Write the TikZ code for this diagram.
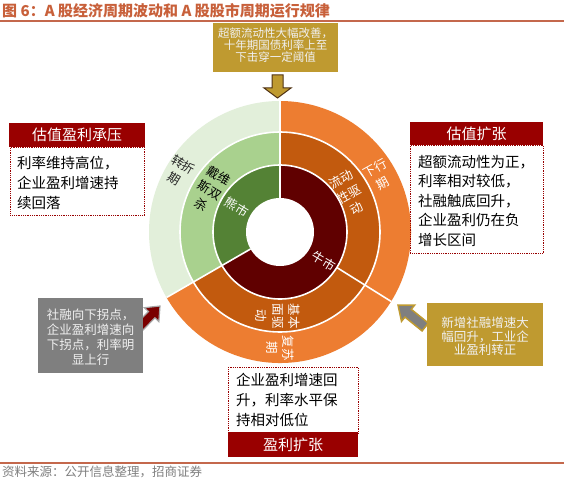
\documentclass[tikz,border=0pt]{standalone}
\usepackage{fontspec}
\setmainfont{Noto Sans CJK SC}
\definecolor{titlecol}{RGB}{200,96,58}
\definecolor{linecol}{RGB}{196,104,76}
\definecolor{hdrred}{RGB}{153,0,0}
\definecolor{goldc}{RGB}{191,154,48}
\definecolor{greyc}{RGB}{127,127,127}
\definecolor{orangec}{RGB}{237,125,49}
\definecolor{brownc}{RGB}{194,90,14}
\definecolor{maroonc}{RGB}{96,0,0}
\definecolor{dgreen}{RGB}{84,130,53}
\definecolor{lgreen}{RGB}{169,209,142}
\definecolor{pgreen}{RGB}{226,239,218}
\definecolor{arrowred}{RGB}{122,0,0}
\definecolor{darkout}{RGB}{80,50,20}
\definecolor{labeldark}{RGB}{38,38,38}
\begin{document}
\begin{tikzpicture}[x=1pt,y=-1pt,
  hdr/.style={fill=hdrred, text=white, font=\fontsize{15}{18}\selectfont, inner sep=0pt, minimum height=24pt},
  dotbox/.style={draw=hdrred, densely dotted, line width=0.8pt, inner sep=0pt, anchor=north west},
  body/.style={font=\fontsize{14.5}{20}\selectfont, align=left, inner sep=0pt, anchor=north west, text=black},
  rl/.style={font=\fontsize{12.5}{16.5}\selectfont, align=center, inner sep=0pt, text=white},
  note/.style={text=white!94!black, align=center, inner sep=0pt},
  sep/.style={white, line width=1.6pt}
]
\useasboundingbox (0,0) rectangle (564,481);
\fill[white] (0,0) rectangle (564,481);

% title and footer
\node[anchor=west, inner sep=0pt, text=titlecol, font=\fontsize{15}{18}\selectfont\bfseries] (title) at (2,11) {图 6：A 股经济周期波动和 A 股股市周期运行规律};
\coordinate (tl1) at (0,21); \coordinate (tl2) at (564,21);
\draw[linecol, line width=2pt] (tl1) -- (tl2);
\coordinate (fl1) at (0,463); \coordinate (fl2) at (564,463);
\draw[linecol, line width=1.2pt] (fl1) -- (fl2);
\node[anchor=west, inner sep=0pt, text=greyc, font=\fontsize{12.5}{15}\selectfont] (foot) at (2,472) {资料来源：公开信息整理，招商证券};

% donut
\begin{scope}[shift={(280,232)}]
\begin{scope}[y=1pt]
  % outer ring
  \fill[pgreen] (0,0) -- (90:131) arc[start angle=90, end angle=210, radius=131] -- cycle;
  \fill[orangec] (0,0) -- (210:131) arc[start angle=210, end angle=450, radius=131] -- cycle;
  % middle ring
  \fill[lgreen] (0,0) -- (90:100) arc[start angle=90, end angle=210, radius=100] -- cycle;
  \fill[brownc] (0,0) -- (210:100) arc[start angle=210, end angle=450, radius=100] -- cycle;
  % inner ring
  \fill[dgreen] (0,0) -- (90:67) arc[start angle=90, end angle=210, radius=67] -- cycle;
  \fill[maroonc] (0,0) -- (210:67) arc[start angle=210, end angle=450, radius=67] -- cycle;
  % hole
  \fill[white] (0,0) circle[radius=34];
  % separators
  \draw[sep] (0,0) circle[radius=67];
  \draw[sep] (0,0) circle[radius=100];
  \draw[sep] (90:34) -- (90:131);
  \draw[sep] (210:34) -- (210:131);
  \draw[sep] (328:67) -- (328:131);
  % labels
  \node[rl, text=labeldark, rotate=-31] (zzq) at (-101,60) {转折\\期};
  \node[rl, text=black, rotate=-31] (dwss) at (-70,42) {戴维\\斯双\\杀};
  \node[rl, rotate=-31] (xs) at (-43,25) {熊市};
  \node[rl, rotate=-31] (ns) at (44,-29) {牛市};
  \node[rl, rotate=29] (ldx) at (69,38) {流动\\性驱\\动};
  \node[rl, rotate=29] (xxq) at (99,56) {下行\\期};
  \node[rl, rotate=-90] (jbm) at (-2,-84) {基本\\面驱\\动};
  \node[rl, rotate=-90] (fsq) at (0,-116) {复苏\\期};
\end{scope}
\end{scope}

% top gold box and arrow
\begin{scope}[shift={(277.5,98)}, rotate=-90]
  \draw[fill=goldc, draw=darkout, line width=1pt] (0,0) -- (-10,13.5) -- (-10,5.5) -- (-23,5.5) -- (-23,-5.5) -- (-10,-5.5) -- (-10,-13.5) -- cycle;
\end{scope}
\node[fill=goldc, minimum width=125pt, minimum height=49pt, inner sep=0pt] (topbox) at (275.5,47.5) {};
\node[note, font=\fontsize{11.5}{12}\selectfont] (toptext) at (275.5,45.5) {超额流动性大幅改善，\\十年期国债利率上至\hspace{1em}\\下击穿一定阈值};

% left arrow and grey box
\begin{scope}[shift={(160,306)}, rotate=46]
  \draw[fill=arrowred, draw=gray!70, line width=1.2pt] (0,0) -- (-12,10) -- (-12,4.5) -- (-30,4.5) -- (-30,-4.5) -- (-12,-4.5) -- (-12,-10) -- cycle;
\end{scope}
\node[fill=greyc, minimum width=105pt, minimum height=75pt, inner sep=0pt] (gbox) at (90.5,335.5) {};
\node[note, font=\fontsize{12.5}{15}\selectfont] (gtext) at (90.5,337) {社融向下拐点，\\企业盈利增速向\\下拐点，利率明\\显上行};

% right arrow and gold box
\begin{scope}[shift={(398,305)}, rotate=141]
  \draw[fill=greyc, draw=goldc, line width=1.5pt] (0,0) -- (-13,10.5) -- (-13,5) -- (-35,5) -- (-35,-5) -- (-13,-5) -- (-13,-10.5) -- cycle;
\end{scope}
\node[fill=goldc, minimum width=116pt, minimum height=63pt, inner sep=0pt] (rbox) at (485,334.5) {};
\node[note, font=\fontsize{12.5}{13.5}\selectfont] (rtext) at (485,336.5) {新增社融增速大\\幅回升，工业企\\业盈利转正};

% left red box
\node[dotbox, minimum width=134pt, minimum height=68pt] (lbody) at (10,147) {};
\node[hdr, minimum width=136pt] (lhdr) at (77,135) {估值盈利承压};
\node[body] (ltext) at (17,156) {利率维持高位，\\企业盈利增速持\\续回落};

% right red box
\node[dotbox, minimum width=133pt, minimum height=108pt] (rbody) at (410,145) {};
\node[hdr, minimum width=133pt, minimum height=23pt] (rhdr) at (476.5,133.5) {估值扩张};
\node[body, font=\fontsize{14.5}{19.5}\selectfont] (rtext2) at (418,155) {超额流动性为正，\\利率相对较低，\\社融触底回升，\\企业盈利仍在负\\增长区间};

% bottom box
\node[dotbox, minimum width=130pt, minimum height=66pt] (bbody) at (228,367) {};
\node[hdr, minimum width=130pt, minimum height=25pt] (bhdr) at (293,444.5) {盈利扩张};
\node[body] (btext) at (236,373) {企业盈利增速回\\升，利率水平保\\持相对低位};
\end{tikzpicture}
\end{document}
